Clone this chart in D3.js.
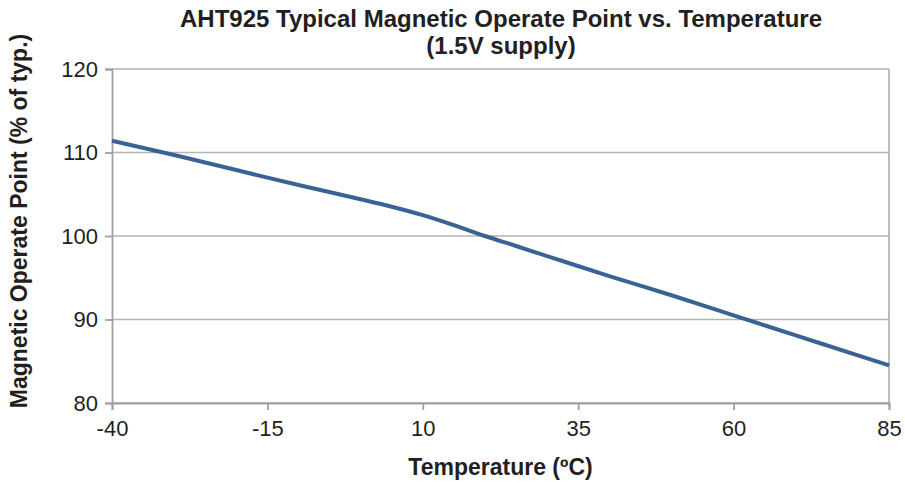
<!DOCTYPE html>
<html>
<head>
<meta charset="utf-8">
<script src="https://cdn.jsdelivr.net/npm/d3@7"></script>
<style>
  body { margin: 0; background: #fff; }
  text { font-family: "Liberation Sans", Arial, sans-serif; fill: #231f20; }
</style>
</head>
<body>
<div id="chart"></div>
<script>
// data
var temps = [-40, -30, -20, -10, 0, 5, 10, 15, 20, 25, 30, 40, 50, 60, 70, 80, 85];
var operatePoint = [111.4, 109.7, 107.9, 106.1, 104.4, 103.5, 102.5, 101.3, 100.0, 98.8, 97.6, 95.2, 92.9, 90.5, 88.1, 85.7, 84.5];
var xTicks = [-40, -15, 10, 35, 60, 85];
var yTicks = [80, 90, 100, 110, 120];

var svg = d3.select("#chart").append("svg")
    .attr("width", 905)
    .attr("height", 487);

var margin = {top: 69, right: 16, bottom: 84, left: 112},
    width = 905 - margin.left - margin.right,
    height = 487 - margin.top - margin.bottom;

var x = d3.scaleLinear().domain([-40, 85]).range([0, width]);
var y = d3.scaleLinear().domain([80, 120]).range([height, 0]);

var g = svg.append("g")
    .attr("transform", "translate(" + margin.left + "," + margin.top + ")");

// gridlines
g.selectAll(".grid")
    .data(yTicks)
  .enter().append("line")
    .attr("x1", 0).attr("x2", width)
    .attr("y1", function(d) { return y(d); })
    .attr("y2", function(d) { return y(d); })
    .attr("stroke", "#b3b3b3")
    .attr("stroke-width", 1.5);

// right border
g.append("line")
    .attr("x1", width).attr("x2", width)
    .attr("y1", 0).attr("y2", height)
    .attr("stroke", "#a6a6a6")
    .attr("stroke-width", 1.5);

var yAxis = g.append("g")
    .call(d3.axisLeft(y).tickValues(yTicks).tickSize(7).tickPadding(7).tickFormat(function(d) { return String(d); }));

var xAxis = g.append("g")
    .attr("transform", "translate(0," + height + ")")
    .call(d3.axisBottom(x).tickValues(xTicks).tickSize(7).tickPadding(10).tickFormat(function(d) { return String(d); }));

[xAxis, yAxis].forEach(function(a) {
  a.select(".domain").attr("stroke", "#a0a0a0").attr("stroke-width", 1.8);
  a.selectAll(".tick line").attr("stroke", "#a0a0a0").attr("stroke-width", 1.8);
  a.selectAll(".tick text")
    .style("font-family", "'Liberation Sans', Arial, sans-serif")
    .style("font-size", "22px")
    .attr("fill", "#231f20");
});

var line = d3.line()
    .x(function(d, i) { return x(temps[i]); })
    .y(function(d) { return y(d); })
    .curve(d3.curveMonotoneX);

g.append("path")
    .datum(operatePoint)
    .attr("fill", "none")
    .attr("stroke", "#3a6295")
    .attr("stroke-width", 4)
    .attr("d", line);

// title
svg.append("text")
    .attr("x", 501).attr("y", 27)
    .attr("text-anchor", "middle")
    .style("font-size", "24px").style("font-weight", "bold")
    .text("AHT925 Typical Magnetic Operate Point vs. Temperature");
svg.append("text")
    .attr("x", 501).attr("y", 54)
    .attr("text-anchor", "middle")
    .style("font-size", "24px").style("font-weight", "bold")
    .text("(1.5V supply)");

// axis titles
svg.append("text")
    .attr("x", margin.left + width / 2).attr("y", 475)
    .attr("text-anchor", "middle")
    .style("font-size", "23px").style("font-weight", "bold")
    .text("Temperature (ºC)");

svg.append("text")
    .attr("transform", "translate(27,221) rotate(-90)")
    .attr("text-anchor", "middle")
    .style("font-size", "23px").style("font-weight", "bold")
    .text("Magnetic Operate Point (% of typ.)");
</script>
</body>
</html>
